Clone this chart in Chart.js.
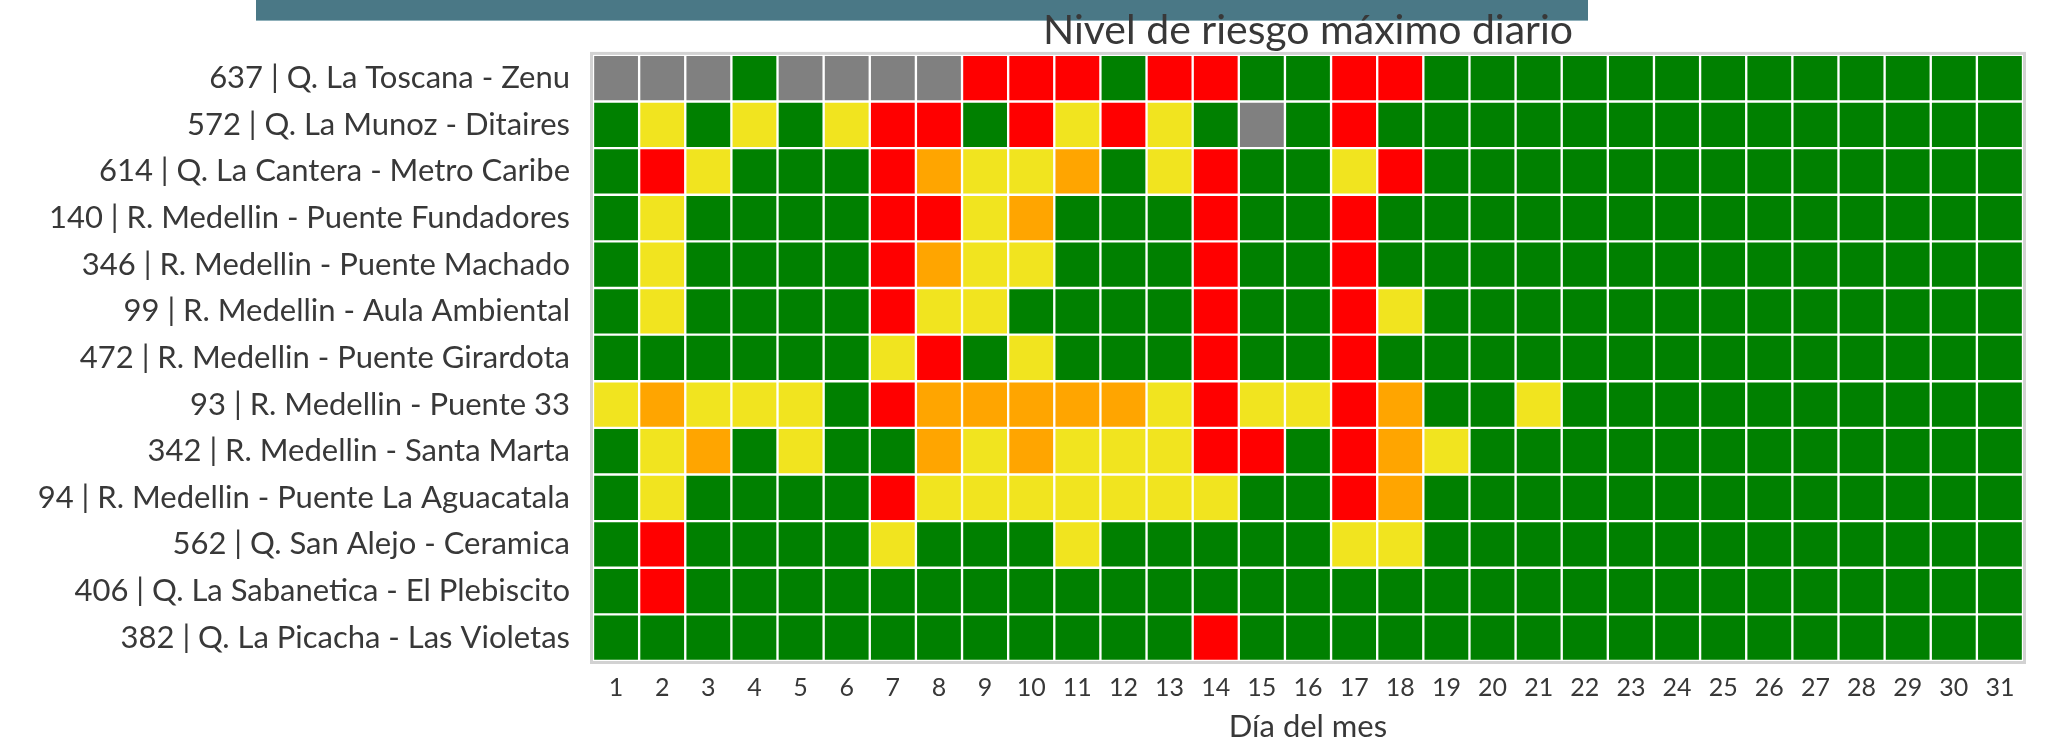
<!DOCTYPE html>
<html>
<head>
<meta charset="utf-8">
<script src="https://cdn.jsdelivr.net/npm/chart.js@4/dist/chart.umd.min.js"></script>
<style>
  html, body { margin: 0; padding: 0; background: #fff; }
  #wrap { position: relative; width: 2045px; height: 746px; }
  #banner { position: absolute; left: 256px; top: 0; width: 1332px; height: 20px; background: #4a7886; border-bottom: 1px solid #8fb0ba; }
  canvas { position: absolute; left: 0; top: 0; }
</style>
</head>
<body>
<div id="wrap">
  <div id="banner"></div>
  <canvas id="heat" width="2045" height="746"></canvas>
</div>
<script>
// Nivel de riesgo maximo diario por estacion (0 sin dato, 1 verde, 2 amarillo, 3 naranja, 4 rojo)

const stations = [
  '637 | Q. La Toscana - Zenu',
  '572 | Q. La Munoz - Ditaires',
  '614 | Q. La Cantera - Metro Caribe',
  '140 | R. Medellin - Puente Fundadores',
  '346 | R. Medellin - Puente Machado',
  '99 | R. Medellin - Aula Ambiental',
  '472 | R. Medellin - Puente Girardota',
  '93 | R. Medellin - Puente 33',
  '342 | R. Medellin - Santa Marta',
  '94 | R. Medellin - Puente La Aguacatala',
  '562 | Q. San Alejo - Ceramica',
  '406 | Q. La Sabanetica - El Plebiscito',
  '382 | Q. La Picacha - Las Violetas',
];

const days = ['1','2','3','4','5','6','7','8','9','10','11','12','13','14','15','16',
  '17','18','19','20','21','22','23','24','25','26','27','28','29','30','31'];

const riskLevels = [
  [0,0,0,1,0,0,0,0,4,4,4,1,4,4,1,1,4,4,1,1,1,1,1,1,1,1,1,1,1,1,1],
  [1,2,1,2,1,2,4,4,1,4,2,4,2,1,0,1,4,1,1,1,1,1,1,1,1,1,1,1,1,1,1],
  [1,4,2,1,1,1,4,3,2,2,3,1,2,4,1,1,2,4,1,1,1,1,1,1,1,1,1,1,1,1,1],
  [1,2,1,1,1,1,4,4,2,3,1,1,1,4,1,1,4,1,1,1,1,1,1,1,1,1,1,1,1,1,1],
  [1,2,1,1,1,1,4,3,2,2,1,1,1,4,1,1,4,1,1,1,1,1,1,1,1,1,1,1,1,1,1],
  [1,2,1,1,1,1,4,2,2,1,1,1,1,4,1,1,4,2,1,1,1,1,1,1,1,1,1,1,1,1,1],
  [1,1,1,1,1,1,2,4,1,2,1,1,1,4,1,1,4,1,1,1,1,1,1,1,1,1,1,1,1,1,1],
  [2,3,2,2,2,1,4,3,3,3,3,3,2,4,2,2,4,3,1,1,2,1,1,1,1,1,1,1,1,1,1],
  [1,2,3,1,2,1,1,3,2,3,2,2,2,4,4,1,4,3,2,1,1,1,1,1,1,1,1,1,1,1,1],
  [1,2,1,1,1,1,4,2,2,2,2,2,2,2,1,1,4,3,1,1,1,1,1,1,1,1,1,1,1,1,1],
  [1,4,1,1,1,1,2,1,1,1,2,1,1,1,1,1,2,2,1,1,1,1,1,1,1,1,1,1,1,1,1],
  [1,4,1,1,1,1,1,1,1,1,1,1,1,1,1,1,1,1,1,1,1,1,1,1,1,1,1,1,1,1,1],
  [1,1,1,1,1,1,1,1,1,1,1,1,1,4,1,1,1,1,1,1,1,1,1,1,1,1,1,1,1,1,1],
];

const levelColors = ['#808080', '#008000', '#f1e41f', '#ffa500', '#ff0000'];

const FONT = 'Lato, "Open Sans", sans-serif';
const TEXT = '#383838';

// each station is one stacked row, each cell one unit tall
const datasets = stations.map((name, r) => ({
  label: name,
  data: riskLevels[r].map(() => 1),
  backgroundColor: riskLevels[r].map(l => levelColors[l]),
  borderColor: '#ffffff',
  borderWidth: 1.5,
  borderSkipped: false,
  barPercentage: 1,
  categoryPercentage: 1,
}));

const frame = {
  id: 'frame',
  afterDatasetsDraw(chart) {
    const a = chart.chartArea;
    const ctx = chart.ctx;
    ctx.save();
    ctx.strokeStyle = '#d2d2d2';
    ctx.lineWidth = 3;
    ctx.strokeRect(a.left - 1.5, a.top - 1.5, a.right - a.left + 3, a.bottom - a.top + 3);
    ctx.restore();
  },
};

new Chart(document.getElementById('heat'), {
  type: 'bar',
  data: { labels: days, datasets },
  plugins: [frame],
  options: {
    responsive: false,
    animation: false,
    layout: { padding: { left: 0, right: 22, top: 0, bottom: 0 } },
    plugins: {
      legend: { display: false },
      tooltip: { enabled: false },
      title: {
        display: true,
        text: 'Nivel de riesgo máximo diario',
        fullSize: false,
        color: TEXT,
        font: { family: FONT, size: 41, weight: 'normal', lineHeight: 0.9 },
        padding: { top: 12, bottom: 6 },
      },
    },
    scales: {
      x: {
        stacked: true,
        grid: { display: false, drawTicks: false },
        border: { display: false },
        ticks: { color: TEXT, font: { family: FONT, size: 25 }, padding: 12, maxRotation: 0, autoSkip: false },
        title: { display: true, text: 'Día del mes', color: TEXT, font: { family: FONT, size: 31 }, padding: { top: 0, bottom: 0 } },
        afterFit: s => { s.height = 85; },
      },
      y: {
        stacked: true,
        display: false,
        reverse: true,
        min: 0,
        max: stations.length,
      },
      rows: {
        type: 'category',
        axis: 'y',
        position: 'left',
        labels: stations,
        offset: true,
        grid: { display: false, drawTicks: false },
        border: { display: false },
        ticks: { color: TEXT, font: { family: FONT, size: 31 }, padding: 23, autoSkip: false },
        afterFit: s => { s.width = 593; },
      },
    },
  },
});
</script>
</body>
</html>
